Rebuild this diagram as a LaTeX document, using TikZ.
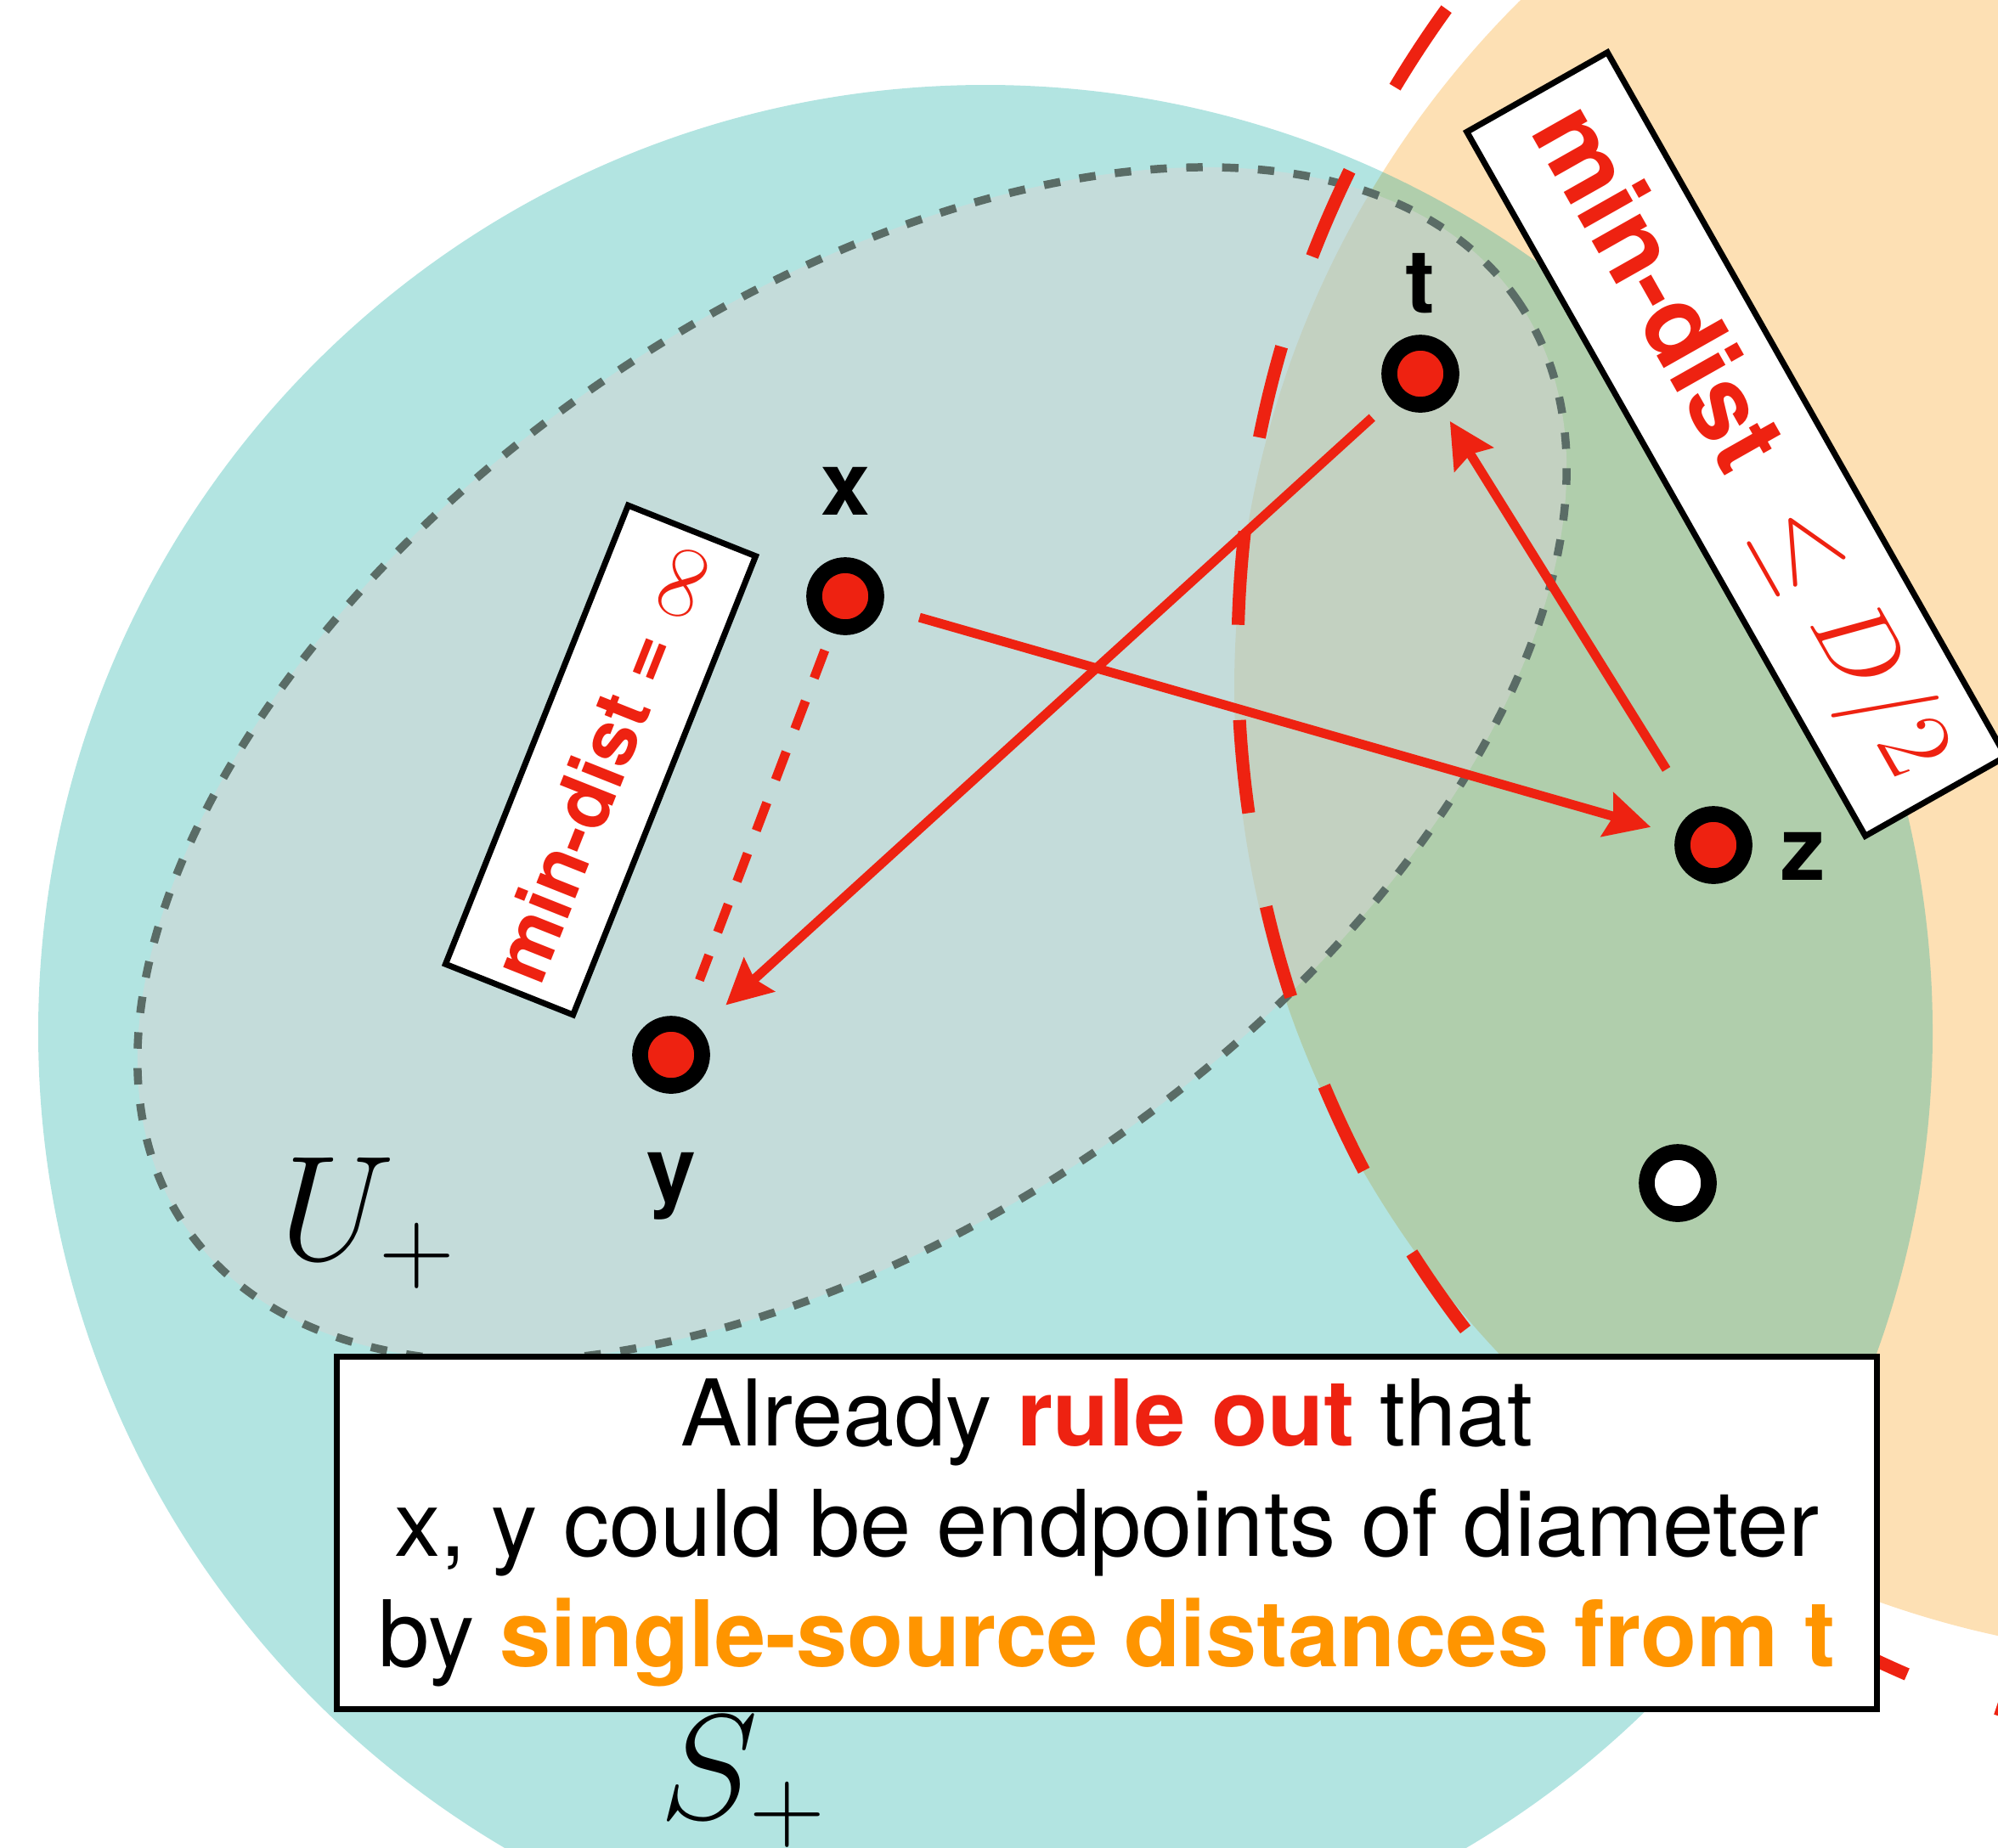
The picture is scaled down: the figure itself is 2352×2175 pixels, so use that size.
\RequirePackage{fix-cm}
\documentclass[tikz,border=0pt]{standalone}
\usepackage[no-math]{fontspec}
\setmainfont{TeX Gyre Heros}
\usetikzlibrary{arrows.meta,positioning}
\definecolor{Peach}{HTML}{FDE0B4}
\definecolor{Lagoon}{HTML}{00A59B}
\definecolor{Haze}{HTML}{D5D5D5}
\definecolor{Slate}{HTML}{5A6C66}
\definecolor{Signal}{HTML}{EE2211}
\definecolor{Amber}{HTML}{FF9500}
\tikzset{
  redarrow/.style={-{Stealth[length=15pt,width=15pt,inset=2pt]},line width=3.1pt,draw=Signal},
  vertex/.style={circle,minimum size=0.73cm,inner sep=0pt,line width=5.3pt,draw=black,fill=Signal},
  vlabel/.style={inner sep=0pt,font=\fontsize{29.6}{34}\selectfont\bfseries},
  tagbox/.style={draw=black,line width=2pt,fill=white,inner sep=0pt,text=Signal},
  setlabel/.style={inner sep=0pt,font=\fontsize{50}{60}\selectfont},
}

\begin{document}
\begin{tikzpicture}[x=0.01cm,y=-0.01cm]
  \useasboundingbox (0,0) rectangle (2352,2175);
  \clip (0,0) rectangle (2352,2175);
  % the two balls
  \fill[Peach] (2595,810) circle[radius=1142];
  \fill[Lagoon,fill opacity=0.3] (1160,1215) circle[radius=1115];
  \begin{scope}[shift={(1003,900)},rotate=35]
    \filldraw[fill=Haze,fill opacity=0.52,draw=Slate,line width=2.7pt,dash pattern=on 5.5pt off 6.5pt]
      (0,0) ellipse[x radius=955,y radius=538];
  \end{scope}
  \draw[Signal,line width=4.3pt,dash pattern=on 31.3pt off 31.9pt,dash phase=24.2pt]
    (2762,773) circle[radius=1305];

  \node[vertex] (t) at (1672,440) {};
  \node[vertex] (x) at (995,702) {};
  \node[vertex] (z) at (2017,995) {};
  \node[vertex] (y) at (790,1242) {};
  \node[vertex,fill=white] (w) at (1975,1393) {};

  \node[vlabel,above=7pt of t] (tl) {t};
  \node[vlabel,above=14pt of x] (xl) {x};
  \node[vlabel,below=19.6pt of y] (yl) {y};
  \node[vlabel,right=9.4pt of z,yshift=-3.7pt] (zl) {z};

  \draw[redarrow,shorten <=12.8pt,shorten >=8.8pt] (x) -- (z);
  \draw[redarrow,shorten <=8.8pt,shorten >=11.7pt] (t) -- (y);
  \draw[redarrow,shorten <=16.8pt,shorten >=5.7pt] (z) -- (t);
  \draw[Signal,line width=3.1pt,dash pattern=on 10pt off 8.2pt,shorten <=6.3pt,shorten >=13.7pt] (x) -- (y);

  \node[tagbox,rotate=68.3,minimum width=5.81cm,minimum height=1.615cm,
    font=\fontsize{25.9}{30}\selectfont] (inf) at (707,895) {\textbf{min-dist =} $\infty$};
  \node[tagbox,rotate=-60.5,minimum width=9.52cm,minimum height=1.9cm,
    font=\fontsize{34.4}{40}\selectfont] (half) at (2044,523) {\textbf{min-dist}\ \ $\leq D/2$};

  \node[setlabel] (uplus) at (433,1440) {$U_+$};
  \node[setlabel] (splus) at (875,2098) {$S_+$};

  \node[draw=black,line width=2pt,fill=white,minimum width=18.11cm,minimum height=4.15cm,
    align=center,font=\fontsize{30.8}{36.9}\selectfont] (note) at (1303,1805)
    {Already \textcolor{Signal}{\textbf{rule out}} that\\
     x, y could be endpoints of diameter\\
     by \textcolor{Amber}{\textbf{single-source distances from t}}};
\end{tikzpicture}
\end{document}
